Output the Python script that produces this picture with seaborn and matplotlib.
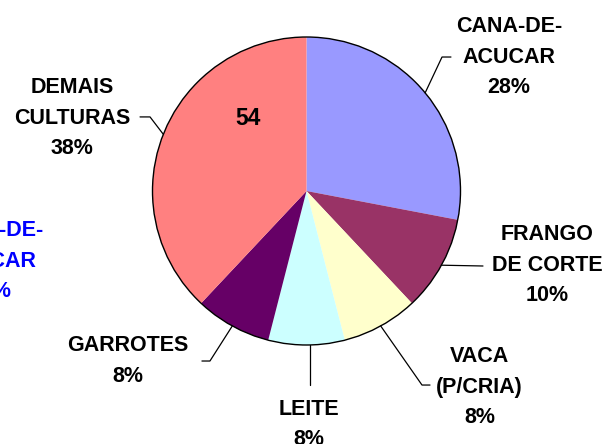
import numpy as np
import matplotlib
matplotlib.use("Agg")
import matplotlib.pyplot as plt
import seaborn as sns

# Data
labels = ["CANA-DE-\nACUCAR", "FRANGO\nDE CORTE", "VACA\n(P/CRIA)", "LEITE", "GARROTES", "DEMAIS\nCULTURAS"]
shares = [28, 10, 8, 8, 8, 38]
colors = ["#9999FF", "#993366", "#FFFFCC", "#CCFFFF", "#660066", "#FF8080"]

sns.set_theme(style="white")
plt.rcParams["font.family"] = ["Liberation Sans", "DejaVu Sans"]

fig = plt.figure(figsize=(6.09, 4.44), dpi=100)
ax = fig.add_axes([0, 0, 1, 1])

wedges, _ = ax.pie(shares, colors=sns.color_palette(colors), startangle=90,
                   counterclock=False, radius=1,
                   wedgeprops=dict(linewidth=0, antialiased=True))
ax.add_patch(plt.Circle((0, 0), 1, fill=False, ec="black", lw=1, zorder=3))

# pixel layout: pie centre (306.5, 191), radius 154 px
cx, cy, r = 306.5, 191, 154
ax.set_xlim(-cx / r, (609 - cx) / r)
ax.set_ylim(-(444 - cy) / r, cy / r)
ax.set_aspect("equal")
ax.axis("off")

# label layouts: (leader elbow, leader end, text centre)
layout = [
    ((0.880, 0.870), (0.938, 0.870), (1.315, 0.870)),
    (None, (1.146, -0.487), (1.565, -0.481)),
    ((0.750, -1.260), (0.802, -1.260), (1.123, -1.273)),
    (None, (0.023, -1.260), (0.015, -1.515)),
    ((-0.627, -1.104), (-0.679, -1.104), (-1.159, -1.104)),
    ((-1.016, 0.481), (-1.081, 0.481), (-1.523, 0.474)),
]

fs, ls = 15.5, 1.57
for w, lab, s, (elbow, end, txt) in zip(wedges, labels, shares, layout):
    mid = np.deg2rad((w.theta1 + w.theta2) / 2)
    start = (np.cos(mid), np.sin(mid))
    pts = [start] + ([elbow] if elbow else []) + [end]
    if lab == "LEITE":
        pts = [(end[0], -1.0), end]
    xs, ys = zip(*pts)
    ax.plot(xs, ys, color="black", lw=0.9, zorder=4)
    ax.text(txt[0], txt[1], f"{lab}\n{s}%", ha="center", va="center",
            fontsize=fs, fontweight="bold", linespacing=ls, color="black")

ax.text(-0.380, 0.474, "54", ha="center", va="center", fontsize=16.5,
        fontweight="bold", color="black")

# clipped label from a neighbouring chart
ax.text(-2.055, -0.455, "CANA-DE-\nACUCAR\n28%", ha="center", va="center",
        fontsize=fs, fontweight="bold", linespacing=ls, color="#0000FF")

plt.savefig("out.png", dpi=100)
